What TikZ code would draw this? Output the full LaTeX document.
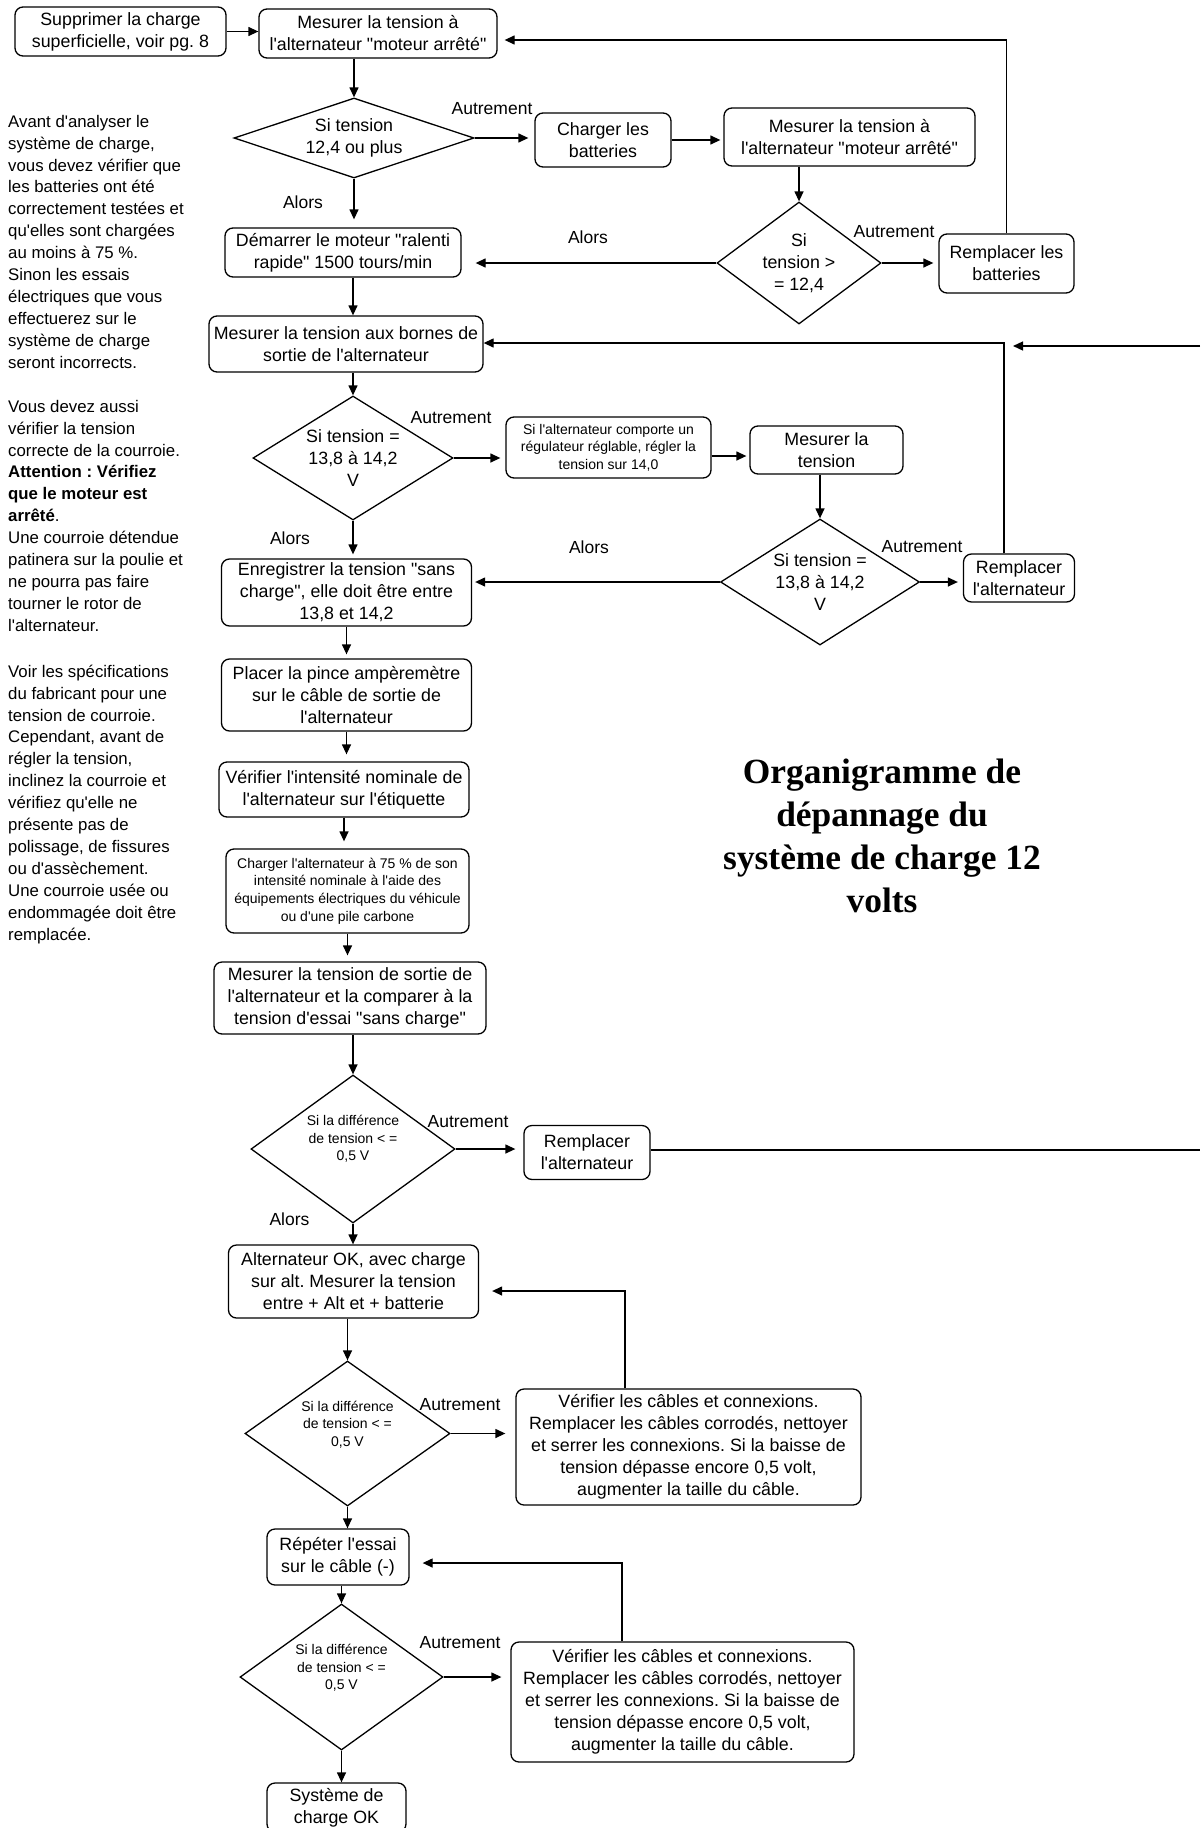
\documentclass[tikz,border=0pt]{standalone}
\usepackage{fontspec}
\newfontfamily\arialf{Liberation Sans}
\newfontfamily\timesf{Liberation Serif}
\usetikzlibrary{shapes.geometric,arrows.meta}
\newcommand{\setfs}[2]{\fontsize{#1pt}{#2pt}\selectfont}
\frenchspacing
\begin{document}
\begin{tikzpicture}[x=1pt,y=-1pt,
  box/.style 2 args={draw, rounded corners=8pt, line width=1.3pt, align=center, inner sep=1pt,
    minimum width=#1pt, minimum height=#2pt, font=\arialf\setfs{17.8}{22}},
  sbox/.style 2 args={box={#1}{#2}, font=\arialf\setfs{14}{17.6}},
  dia/.style 2 args={draw, diamond, line width=1.3pt, inner sep=0pt, minimum width=#1pt, minimum height=#2pt},
  dtxt/.style={align=center, inner sep=0pt, font=\arialf\setfs{17.8}{22}},
  sdtxt/.style={align=center, inner sep=0pt, font=\arialf\setfs{14}{17.5}},
  lab/.style={inner sep=0pt, font=\arialf\setfs{17.5}{21}},
  arr/.style={line width=1.3pt, -{Triangle[length=10pt,width=9pt]}},
  ln/.style={line width=1.3pt},
  side/.style={align=left, inner sep=0pt, anchor=north west, font=\arialf\setfs{16.8}{21.9}},
  ttl/.style={align=center, inner sep=0pt, anchor=north, font=\timesf\bfseries\setfs{35.4}{43}}
]
\fill[white] (0,0) rectangle (1200,1828);
\useasboundingbox (0,0) rectangle (1200,1828);

% left column text
\node[side] (p1) at (8,111) {\rule{0pt}{16pt}Avant d'analyser le\\système de charge,\\vous devez vérifier que\\les batteries ont été\\correctement testées et\\qu'elles sont chargées\\au moins à 75 \%.\\Sinon les essais\\électriques que vous\\effectuerez sur le\\système de charge\\seront incorrects.};
\node[side] (p2) at (8,396) {\rule{0pt}{16pt}Vous devez aussi\\vérifier la tension\\correcte de la courroie.\\\textbf{Attention : Vérifiez}\\\textbf{que le moteur est}\\\textbf{arrêté}.\\Une courroie détendue\\patinera sur la poulie et\\ne pourra pas faire\\tourner le rotor de\\l'alternateur.};
\node[side] (p3) at (8,661) {\rule{0pt}{16pt}Voir les spécifications\\du fabricant pour une\\tension de courroie.\\Cependant, avant de\\régler la tension,\\inclinez la courroie et\\vérifiez qu'elle ne\\présente pas de\\polissage, de fissures\\ou d'assèchement.\\Une courroie usée ou\\endommagée doit être\\remplacée.};

% title
\node[ttl] (title) at (882,753) {\rule{0pt}{30pt}Organigramme de\\dépannage du\\système de charge 12\\volts};

% nodes
\node[box={211}{49}] (sup) at (120.5,31.5) {Supprimer la charge\\superficielle, voir pg. 8};
\node[box={238}{49}] (m1) at (378,33.5) {Mesurer la tension à\\l'alternateur "moteur arrêté"};
\node[dia={240}{80}] (d1) at (354,138) {};
\node[dtxt] (d1t) at (d1) {Si tension\\12,4 ou plus};
\node[box={136}{54}] (ch) at (603,140) {Charger les\\batteries};
\node[box={251}{58}] (m2) at (849.5,137) {Mesurer la tension à\\l'alternateur "moteur arrêté"};
\node[dia={164}{122}] (d2) at (799,263) {};
\node[dtxt] (d2t) at (d2) {Si\\tension >\\= 12,4};
\node[box={135}{59}] (rb) at (1006.5,263.5) {Remplacer les\\batteries};
\node[box={236}{49}] (dem) at (343,252.5) {Démarrer le moteur "ralenti\\rapide" 1500 tours/min};
\node[box={274}{56}] (mb) at (346,344) {Mesurer la tension aux bornes de\\sortie de l'alternateur};
\node[dia={200}{124}] (d3) at (353,458) {};
\node[dtxt] (d3t) at (d3) {Si tension =\\13,8 à 14,2\\V};
\node[sbox={205}{61}] (reg) at (608.5,447.5) {Si l'alternateur comporte un\\régulateur réglable, régler la\\tension sur 14,0};
\node[box={153}{48}] (mt) at (826.5,450) {Mesurer la\\tension};
\node[dia={199}{126}] (d4) at (820,582) {};
\node[dtxt] (d4t) at (d4) {Si tension =\\13,8 à 14,2\\V};
\node[box={111}{48}] (ra1) at (1019,578) {Remplacer\\l'alternateur};
\node[box={250}{67}] (enr) at (346.5,592.5) {Enregistrer la tension "sans\\charge", elle doit être entre\\13,8 et 14,2};
\node[box={250}{72}] (pl) at (346.5,695) {Placer la pince ampèremètre\\sur le câble de sortie de\\l'alternateur};
\node[box={250}{55}] (vi) at (344,789.5) {Vérifier l'intensité nominale de\\l'alternateur sur l'étiquette};
\node[sbox={243}{84}] (ca) at (347.5,891) {Charger l'alternateur à 75 \% de son\\intensité nominale à l'aide des\\équipements électriques du véhicule\\ou d'une pile carbone};
\node[box={272}{72}] (ms) at (350,998) {Mesurer la tension de sortie de\\l'alternateur et la comparer à la\\tension d'essai "sans charge"};
\node[dia={204}{148}] (d5) at (353,1149) {};
\node[sdtxt] (d5t) at ([yshift=10pt]d5) {Si la différence\\de tension < =\\0,5 V};
\node[box={126}{54}] (ra2) at (587,1152.5) {Remplacer\\l'alternateur};
\node[box={250}{73}] (aok) at (353.5,1281.5) {Alternateur OK, avec charge\\sur alt. Mesurer la tension\\entre + Alt et + batterie};
\node[dia={205}{145}] (d6) at (347.5,1433.5) {};
\node[sdtxt] (d6t) at ([yshift=9pt]d6) {Si la différence\\de tension < =\\0,5 V};
\node[box={345}{116}] (vc1) at (688.5,1447) {Vérifier les câbles et connexions.\\Remplacer les câbles corrodés, nettoyer\\et serrer les connexions. Si la baisse de\\tension dépasse encore 0,5 volt,\\augmenter la taille du câble.};
\node[box={142}{56}] (rep) at (338,1557) {Répéter l'essai\\sur le câble (-)};
\node[dia={203}{146}] (d7) at (341.5,1677) {};
\node[sdtxt] (d7t) at ([yshift=9pt]d7) {Si la différence\\de tension < =\\0,5 V};
\node[box={343}{120}] (vc2) at (682.5,1702) {Vérifier les câbles et connexions.\\Remplacer les câbles corrodés, nettoyer\\et serrer les connexions. Si la baisse de\\tension dépasse encore 0,5 volt,\\augmenter la taille du câble.};
\node[box={139}{49}] (sys) at (336.5,1807.5) {Système de\\charge OK};

% labels
\node[lab] (la1) at (492,109) {Autrement};
\node[lab] (lb1) at (303,202) {Alors};
\node[lab] (la2) at (894,232) {Autrement};
\node[lab] (lb2) at (588,237) {Alors};
\node[lab] (la3) at (451,418) {Autrement};
\node[lab] (lb3) at (290,538) {Alors};
\node[lab] (la4) at (922,547) {Autrement};
\node[lab] (lb4) at (589,547) {Alors};
\node[lab] (la5) at (468,1122) {Autrement};
\node[lab] (lb5) at (289.5,1219) {Alors};
\node[lab] (la6) at (460,1405) {Autrement};
\node[lab] (la7) at (460,1643) {Autrement};

% connectors
\coordinate (fb1) at (1007,40);
\coordinate (fb2) at (1004,343);
\coordinate (fb3) at (625,1291);
\coordinate (fb4) at (622,1563);
\coordinate (e1) at (1200,346);
\coordinate (e1t) at (1013,346);
\coordinate (e2) at (1200,1150);

\draw[arr] (sup.east) -- (sup.east -| m1.west);
\draw[arr, shorten >=7pt] (rb.north) -- (rb.north |- fb1) -- (fb1 -| m1.east);
\draw[arr] (m1.south -| d1.north) -- (d1.north);
\draw[arr, shorten >=6pt] (d1.east) -- (d1.east -| ch.west);
\draw[arr, shorten >=3pt] (ch.east) -- (ch.east -| m2.west);
\draw[arr] (m2.south -| d2.north) -- (d2.north);
\draw[arr, shorten >=5pt] (d2.east) -- (d2.east -| rb.west);
\draw[arr, shorten >=14pt] (d2.west) -- (d2.west -| dem.east);
\draw[arr, shorten >=8pt] (d1.south) -- (d1.south |- dem.north);
\draw[arr] (dem.south -| d3.north) -- (d3.north |- mb.north);
\draw[arr] (mb.south -| d3.north) -- (d3.north);
\draw[arr] (ra1.north -| fb2) -- (fb2) -- (fb2 -| mb.east);
\draw[arr] (e1) -- (e1t);
\draw[arr, shorten >=5pt] (d3.east) -- (d3.east -| reg.west);
\draw[arr, shorten >=3pt] ([yshift=-8.5pt]reg.east) -- ([yshift=-8.5pt]reg.east -| mt.west);
\draw[arr] (mt.south -| d4.north) -- (d4.north);
\draw[arr, shorten >=5pt] (d4.east) -- (d4.east -| ra1.west);
\draw[arr, shorten >=3pt] (d4.west) -- (d4.west -| enr.east);
\draw[arr, shorten >=4pt] (d3.south) -- (d3.south |- enr.north);
\draw[arr, shorten >=4pt] (enr.south) -- (enr.south |- pl.north);
\draw[arr, shorten >=7pt] (pl.south) -- (pl.south |- vi.north);
\draw[arr, shorten >=7pt] (vi.south) -- (vi.south |- ca.north);
\draw[arr, shorten >=6pt] (ca.south) -- (ca.south |- ms.north);
\draw[arr] (ms.south -| d5.north) -- (d5.north);
\draw[arr, shorten >=8pt] (d5.east) -- (d5.east -| ra2.west);
\draw[ln] (ra2.east |- e2) -- (e2);
\draw[arr] (d5.south) -- (d5.south |- aok.north);
\draw[arr] (aok.south -| d6.north) -- (d6.north);
\draw[arr, shorten >=13pt] (vc1.north -| fb3) -- (fb3) -- (fb3 -| aok.east);
\draw[arr, shorten >=10pt] (d6.east) -- (d6.east -| vc1.west);
\draw[arr] (d6.south) -- (d6.south |- rep.north);
\draw[arr] (rep.south -| d7.north) -- (d7.north);
\draw[arr, shorten >=13pt] (vc2.north -| fb4) -- (fb4) -- (fb4 -| rep.east);
\draw[arr, shorten >=9pt] (d7.east) -- (d7.east -| vc2.west);
\draw[arr] (d7.south) -- (d7.south |- sys.north);
\end{tikzpicture}
\end{document}
